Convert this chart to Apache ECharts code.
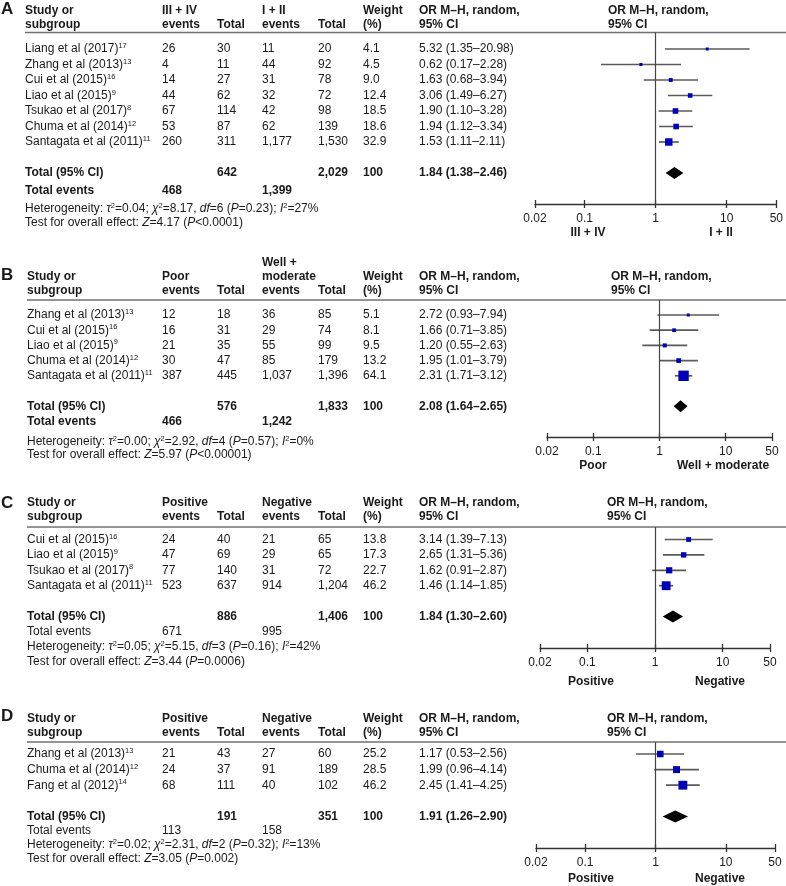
<!DOCTYPE html>
<html><head><meta charset="utf-8">
<script src="https://cdn.jsdelivr.net/npm/echarts@6/dist/echarts.min.js"></script>
<style>html,body{margin:0;padding:0;background:#fff}#c{width:786px;height:886px}</style>
</head><body><div id="c"></div>
<script>
// ================= DATA =================
const tickValues = [0.02, 0.1, 1, 10, 50];
const studyHead = ['Study or', 'subgroup'];
const totalHead = ['Total'];
const weightHead = ['Weight', '(%)'];
const orHead = ['OR M\u2013H, random,', '95% CI'];

// Panel A
const A_study = ['Liang et al (2017)', 'Zhang et al (2013)', 'Cui et al (2015)', 'Liao et al (2015)', 'Tsukao et al (2017)', 'Chuma et al (2014)', 'Santagata et al (2011)'];
const A_ref = ['17', '13', '16', '9', '8', '12', '11'];
const A_ev1 = [26, 4, 14, 44, 67, 53, 260];
const A_tot1 = [30, 11, 27, 62, 114, 87, 311];
const A_ev2 = [11, 44, 31, 32, 42, 62, 1177];
const A_tot2 = [20, 92, 78, 72, 98, 139, 1530];
const A_weight = [4.1, 4.5, 9.0, 12.4, 18.5, 18.6, 32.9];
const A_or = [5.32, 0.62, 1.63, 3.06, 1.90, 1.94, 1.53];
const A_lo = [1.35, 0.17, 0.68, 1.49, 1.10, 1.12, 1.11];
const A_hi = [20.98, 2.28, 3.94, 6.27, 3.28, 3.34, 2.11];
const A_total = [642, 2029, 100];
const A_pooled = [1.84, 1.38, 2.46];
const A_events = [468, 1399];
const A_het = ['0.04', '8.17', '6', '=0.23', '27'];
const A_test = ['4.17', '<0.0001'];
const A_groups = ['III + IV', 'I + II'];
const A_head1 = ['III + IV', 'events'];
const A_head2 = ['I + II', 'events'];

// Panel B
const B_study = ['Zhang et al (2013)', 'Cui et al (2015)', 'Liao et al (2015)', 'Chuma et al (2014)', 'Santagata et al (2011)'];
const B_ref = ['13', '16', '9', '12', '11'];
const B_ev1 = [12, 16, 21, 30, 387];
const B_tot1 = [18, 31, 35, 47, 445];
const B_ev2 = [36, 29, 55, 85, 1037];
const B_tot2 = [85, 74, 99, 179, 1396];
const B_weight = [5.1, 8.1, 9.5, 13.2, 64.1];
const B_or = [2.72, 1.66, 1.20, 1.95, 2.31];
const B_lo = [0.93, 0.71, 0.55, 1.01, 1.71];
const B_hi = [7.94, 3.85, 2.63, 3.79, 3.12];
const B_total = [576, 1833, 100];
const B_pooled = [2.08, 1.64, 2.65];
const B_events = [466, 1242];
const B_het = ['0.00', '2.92', '4', '=0.57', '0'];
const B_test = ['5.97', '<0.00001'];
const B_groups = ['Poor', 'Well + moderate'];
const B_head1 = ['Poor', 'events'];
const B_head2 = ['Well +', 'moderate', 'events'];

// Panel C
const C_study = ['Cui et al (2015)', 'Liao et al (2015)', 'Tsukao et al (2017)', 'Santagata et al (2011)'];
const C_ref = ['16', '9', '8', '11'];
const C_ev1 = [24, 47, 77, 523];
const C_tot1 = [40, 69, 140, 637];
const C_ev2 = [21, 29, 31, 914];
const C_tot2 = [65, 65, 72, 1204];
const C_weight = [13.8, 17.3, 22.7, 46.2];
const C_or = [3.14, 2.65, 1.62, 1.46];
const C_lo = [1.39, 1.31, 0.91, 1.14];
const C_hi = [7.13, 5.36, 2.87, 1.85];
const C_total = [886, 1406, 100];
const C_pooled = [1.84, 1.30, 2.60];
const C_events = [671, 995];
const C_het = ['0.05', '5.15', '3', '=0.16', '42'];
const C_test = ['3.44', '=0.0006'];
const C_groups = ['Positive', 'Negative'];
const C_head1 = ['Positive', 'events'];
const C_head2 = ['Negative', 'events'];

// Panel D
const D_study = ['Zhang et al (2013)', 'Chuma et al (2014)', 'Fang et al (2012)'];
const D_ref = ['13', '12', '14'];
const D_ev1 = [21, 24, 68];
const D_tot1 = [43, 37, 111];
const D_ev2 = [27, 91, 40];
const D_tot2 = [60, 189, 102];
const D_weight = [25.2, 28.5, 46.2];
const D_or = [1.17, 1.99, 2.45];
const D_lo = [0.53, 0.96, 1.41];
const D_hi = [2.56, 4.14, 4.25];
const D_total = [191, 351, 100];
const D_pooled = [1.91, 1.26, 2.90];
const D_events = [113, 158];
const D_het = ['0.02', '2.31', '2', '=0.32', '13'];
const D_test = ['3.05', '=0.002'];
const D_groups = ['Positive', 'Negative'];
const D_head1 = ['Positive', 'events'];
const D_head2 = ['Negative', 'events'];

// ================= LAYOUT / STYLE =================
const FF = '"Liberation Sans", Arial, Helvetica, sans-serif';
const TXT = '#1a1a1a';
const COLX = { ev1: 162, tot1: 217, ev2: 262, tot2: 318, weight: 363, or: 419 };
const LAYOUT = {
  A: { studyX: 25, letterY: 9, headY: 25, rule: 32.5, axis: 204, row0: 49, step: 15.5, totEvY: 191, hetY: 209, testY: 223, dirY: 233, dirX: [588, 721], plotHeadX: 608, gridL: 535, gridW: 243, boldEvents: true },
  B: { studyX: 27, letterY: 275, headY: 291, rule: 300, axis: 437, row0: 315, step: 15.2, totEvY: 422, hetY: 442, testY: 455, dirY: 466, dirX: [593, 723], plotHeadX: 611, gridL: 547, gridW: 225, boldEvents: true },
  C: { studyX: 27, letterY: 503, headY: 517, rule: 527, axis: 648, row0: 539.5, step: 15.4, totEvY: 632, hetY: 647, testY: 662, dirY: 682, dirX: [591, 720], plotHeadX: 607, gridL: 540, gridW: 230, boldEvents: false },
  D: { studyX: 27, letterY: 716, headY: 733, rule: 742, axis: 848, row0: 754, step: 15.6, totEvY: 831, hetY: 845, testY: 859, dirY: 879, dirX: [591, 720], plotHeadX: 607, gridL: 536, gridW: 239, boldEvents: false }
};

const PANELS = [
  { id: 'A', study: A_study, ref: A_ref, ev1: A_ev1, tot1: A_tot1, ev2: A_ev2, tot2: A_tot2, weight: A_weight, or: A_or, lo: A_lo, hi: A_hi, total: A_total, pooled: A_pooled, events: A_events, het: A_het, test: A_test, groups: A_groups, head1: A_head1, head2: A_head2 },
  { id: 'B', study: B_study, ref: B_ref, ev1: B_ev1, tot1: B_tot1, ev2: B_ev2, tot2: B_tot2, weight: B_weight, or: B_or, lo: B_lo, hi: B_hi, total: B_total, pooled: B_pooled, events: B_events, het: B_het, test: B_test, groups: B_groups, head1: B_head1, head2: B_head2 },
  { id: 'C', study: C_study, ref: C_ref, ev1: C_ev1, tot1: C_tot1, ev2: C_ev2, tot2: C_tot2, weight: C_weight, or: C_or, lo: C_lo, hi: C_hi, total: C_total, pooled: C_pooled, events: C_events, het: C_het, test: C_test, groups: C_groups, head1: C_head1, head2: C_head2 },
  { id: 'D', study: D_study, ref: D_ref, ev1: D_ev1, tot1: D_tot1, ev2: D_ev2, tot2: D_tot2, weight: D_weight, or: D_or, lo: D_lo, hi: D_hi, total: D_total, pooled: D_pooled, events: D_events, het: D_het, test: D_test, groups: D_groups, head1: D_head1, head2: D_head2 }
];

const RICH = {
  n: { fontFamily: FF, fontSize: 12, fill: TXT, lineHeight: 14 },
  b: { fontFamily: FF, fontSize: 12, fontWeight: 'bold', fill: TXT, lineHeight: 14 },
  i: { fontFamily: FF, fontSize: 12, fontStyle: 'italic', fill: TXT, lineHeight: 14 },
  s: { fontFamily: FF, fontSize: 7.5, fill: TXT, verticalAlign: 'top' }
};

function fmtN(v) { return Number(v).toLocaleString('en-US'); }
function fmtOR(o, l, h) { return o.toFixed(2) + ' (' + l.toFixed(2) + '\u2013' + h.toFixed(2) + ')'; }

function txt(x, y, text, opt) {
  opt = opt || {};
  return {
    type: 'text', x: x, y: y, silent: true, z: 10,
    style: {
      text: text, fill: TXT, fontFamily: FF, fontSize: opt.size || 12,
      fontWeight: opt.bold ? 'bold' : 'normal',
      align: opt.align || 'left', textAlign: opt.align || 'left',
      verticalAlign: 'middle', textVerticalAlign: 'middle'
    }
  };
}
function rich(x, y, segs) {
  const text = segs.map(s => '{' + s[0] + '|' + s[1] + '}').join('');
  return {
    type: 'text', x: x, y: y, silent: true, z: 10,
    style: { text: text, rich: RICH, fill: TXT, fontFamily: FF, fontSize: 12,
      align: 'left', textAlign: 'left', verticalAlign: 'middle', textVerticalAlign: 'middle' }
  };
}

const graphics = [];
const grids = [], xAxes = [], yAxes = [], series = [];

PANELS.forEach((P, pi) => {
  const L = LAYOUT[P.id];
  const n = P.study.length;
  const rowY = i => L.row0 + i * L.step;
  const totalIdx = n + 1;

  graphics.push(txt(1, L.letterY, P.id, { bold: true, size: 17 }));
  const head = (x, lines) => lines.forEach((s, j) => graphics.push(txt(x, L.headY - (lines.length - 1 - j) * 14, s, { bold: true })));
  head(L.studyX, studyHead);
  head(COLX.ev1, P.head1);
  head(COLX.tot1, totalHead);
  head(COLX.ev2, P.head2);
  head(COLX.tot2, totalHead);
  head(COLX.weight, weightHead);
  head(COLX.or, orHead);
  head(L.plotHeadX, orHead);
  graphics.push({ type: 'line', silent: true, shape: { x1: L.studyX, y1: L.rule, x2: 786, y2: L.rule }, style: { stroke: '#707070', lineWidth: 1.5 } });

  for (let i = 0; i < n; i++) {
    const y = rowY(i);
    graphics.push(rich(L.studyX, y, [['n', P.study[i]], ['s', P.ref[i]]]));
    graphics.push(txt(COLX.ev1, y, fmtN(P.ev1[i])));
    graphics.push(txt(COLX.tot1, y, fmtN(P.tot1[i])));
    graphics.push(txt(COLX.ev2, y, fmtN(P.ev2[i])));
    graphics.push(txt(COLX.tot2, y, fmtN(P.tot2[i])));
    graphics.push(txt(COLX.weight, y, P.weight[i].toFixed(1)));
    graphics.push(txt(COLX.or, y, fmtOR(P.or[i], P.lo[i], P.hi[i])));
  }
  const ty = rowY(totalIdx);
  graphics.push(txt(L.studyX, ty, 'Total (95% CI)', { bold: true }));
  graphics.push(txt(COLX.tot1, ty, fmtN(P.total[0]), { bold: true }));
  graphics.push(txt(COLX.tot2, ty, fmtN(P.total[1]), { bold: true }));
  graphics.push(txt(COLX.weight, ty, String(P.total[2]), { bold: true }));
  graphics.push(txt(COLX.or, ty, fmtOR(P.pooled[0], P.pooled[1], P.pooled[2]), { bold: true }));
  graphics.push(txt(L.studyX, L.totEvY, 'Total events', { bold: L.boldEvents }));
  graphics.push(txt(COLX.ev1, L.totEvY, fmtN(P.events[0]), { bold: L.boldEvents }));
  graphics.push(txt(COLX.ev2, L.totEvY, fmtN(P.events[1]), { bold: L.boldEvents }));
  const h = P.het;
  graphics.push(rich(L.studyX, L.hetY, [
    ['n', 'Heterogeneity: '], ['i', '\u03c4'], ['s', '2'], ['n', '=' + h[0] + '; '],
    ['i', '\u03c7'], ['s', '2'], ['n', '=' + h[1] + ', '], ['i', 'df'], ['n', '=' + h[2] + ' ('],
    ['i', 'P'], ['n', h[3] + '); '], ['i', 'I'], ['s', '2'], ['n', '=' + h[4] + '%']
  ]));
  graphics.push(rich(L.studyX, L.testY, [
    ['n', 'Test for overall effect: '], ['i', 'Z'], ['n', '=' + P.test[0] + ' ('], ['i', 'P'], ['n', P.test[1] + ')']
  ]));
  graphics.push(txt(L.dirX[0], L.dirY, P.groups[0], { bold: true, align: 'center' }));
  graphics.push(txt(L.dirX[1], L.dirY, P.groups[1], { bold: true, align: 'center' }));

  // ---- plot ----
  grids.push({ left: L.gridL, width: L.gridW, top: L.rule, height: L.axis - L.rule, containLabel: false });
  const axCommon = { type: 'log', logBase: 10, gridIndex: pi, min: tickValues[0], max: tickValues[tickValues.length - 1], position: 'bottom', offset: 0, splitLine: { show: false } };
  xAxes.push(Object.assign({}, axCommon, {
    axisLine: { show: true, onZero: false, lineStyle: { color: '#333', width: 1.3 } },
    axisTick: { show: true, length: 4, lineStyle: { color: '#333', width: 1.3 } },
    axisLabel: { show: true, margin: 9, fontSize: 12, color: TXT, fontFamily: FF, showMinLabel: true, showMaxLabel: true,
      formatter: v => String(parseFloat(Number(v).toPrecision(4))) }
  }));
  xAxes.push(Object.assign({}, axCommon, {
    axisLine: { show: false, onZero: false },
    axisTick: { show: true, inside: true, length: 4, lineStyle: { color: '#333', width: 1.3 } },
    axisLabel: { show: false }
  }));
  yAxes.push({ type: 'value', gridIndex: pi, inverse: true, min: (L.rule - L.row0) / L.step, max: (L.axis - L.row0) / L.step, show: false, splitLine: { show: false } });

  const studyData = P.or.map((v, i) => [P.lo[i], P.hi[i], v, P.weight[i], i]);
  series.push({
    type: 'custom', name: P.id + ' studies', xAxisIndex: 2 * pi, yAxisIndex: pi, silent: true, clip: false,
    encode: { x: [0, 1, 2], y: 4 },
    data: studyData,
    renderItem: (params, api) => {
      const idx = api.value(4);
      const a = api.coord([api.value(0), idx]);
      const b = api.coord([api.value(1), idx]);
      const c = api.coord([api.value(2), idx]);
      const s = Math.max(3, 1.3 * Math.sqrt(api.value(3)));
      return { type: 'group', children: [
        { type: 'line', shape: { x1: a[0], y1: a[1], x2: b[0], y2: b[1] }, style: { stroke: '#5a5a5a', lineWidth: 1.7 } },
        { type: 'rect', shape: { x: c[0] - s / 2, y: c[1] - s / 2, width: s, height: s }, style: { fill: '#0000b8' } }
      ] };
    },
    markLine: { silent: true, symbol: ['none', 'none'], label: { show: false }, lineStyle: { color: '#444', width: 1.2, type: 'solid' }, data: [{ xAxis: 1 }] }
  });
  series.push({
    type: 'custom', name: P.id + ' pooled', xAxisIndex: 2 * pi, yAxisIndex: pi, silent: true, clip: false,
    encode: { x: [0, 1, 2], y: 3 },
    data: [[P.pooled[1], P.pooled[2], P.pooled[0], totalIdx]],
    renderItem: (params, api) => {
      const idx = api.value(3);
      const a = api.coord([api.value(0), idx]);
      const b = api.coord([api.value(1), idx]);
      const c = api.coord([api.value(2), idx]);
      return { type: 'polygon', shape: { points: [[a[0], a[1]], [c[0], c[1] - 6], [b[0], b[1]], [c[0], c[1] + 6]] }, style: { fill: '#000' } };
    }
  });
});

const chart = echarts.init(document.getElementById('c'), null, { renderer: 'canvas' });
chart.setOption({
  animation: false,
  backgroundColor: '#ffffff',
  grid: grids,
  xAxis: xAxes,
  yAxis: yAxes,
  series: series,
  graphic: { elements: graphics }
});
</script>
</body></html>
